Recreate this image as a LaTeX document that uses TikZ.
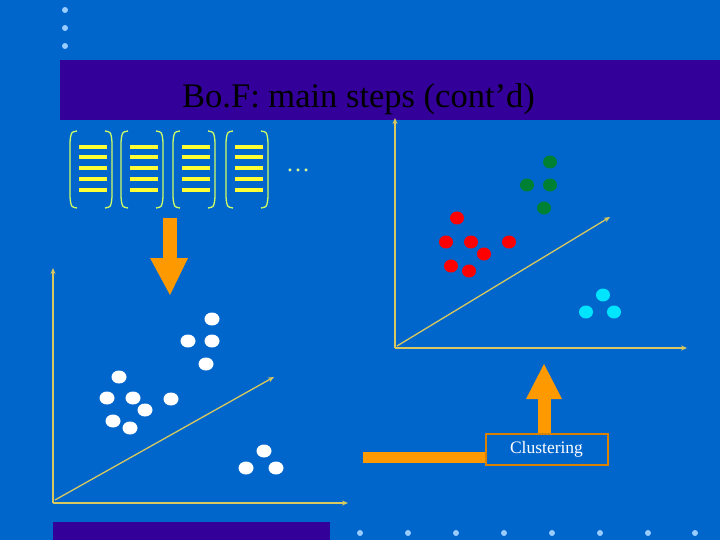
\documentclass[tikz,border=0pt]{standalone}
\usepackage{fontspec}
\setmainfont{Liberation Serif}
\usetikzlibrary{arrows.meta}
\definecolor{bg}{HTML}{0066CC}
\definecolor{bar}{HTML}{330099}
\definecolor{ax}{HTML}{D8C860}
\definecolor{org}{HTML}{FF9900}
\definecolor{ylw}{HTML}{FFFF33}
\definecolor{brk}{HTML}{CCFF66}
\definecolor{ldot}{HTML}{99CCFF}
\definecolor{grn}{HTML}{008033}
\definecolor{cyn}{HTML}{00E5FF}
\begin{document}
\begin{tikzpicture}[x=1pt,y=-1pt,
  axis/.style={draw=ax,line width=1.3pt,-{Stealth[length=6pt,width=5pt]}},
  dotl/.style={fill=ldot,draw=none}]
\fill[bg] (0,0) rectangle (720,540);
\useasboundingbox (0,0) rectangle (720,540);
\fill[bar] (60,60) rectangle (720,120);
\fill[bar] (53,522) rectangle (330,540);
\foreach \y in {10,28,46} \fill[dotl] (65,\y) circle (3);
\foreach \x in {360,408,456,504,552,600,648,695} \fill[dotl] (\x,533) circle (3);
\node[anchor=base west,text=black,font=\fontsize{34.5}{34.5}\selectfont,inner sep=0] (title) at (182,108) {Bo.F: main steps (cont’d)};
% vectors
\foreach \a/\b in {70/112,121/163,173/215,226/268}{
  \draw[brk,line width=1.3pt] (\a+7,131) .. controls (\a+1,132) .. (\a,142) -- (\a,197) .. controls (\a+1,207) .. (\a+7,208);
  \draw[brk,line width=1.3pt] (\b-7,131) .. controls (\b-1,132) .. (\b,142) -- (\b,197) .. controls (\b-1,207) .. (\b-7,208);
  \foreach \y in {147,157,168,179,190} \draw[ylw,line width=3.8pt] (\a+9,\y) -- (\b-5,\y);
}
\node[text=brk!70!white,font=\fontsize{24}{24}\selectfont,inner sep=0] (dots) at (298,170) {\dots};
% down arrow
\coordinate (da2) at (170,295);
\fill[org] (163,218) rectangle (177,258);
\fill[org] (150,258) -- (188,258) -- (da2) -- cycle;
% left axes
\coordinate (lo) at (53,503);
\coordinate (ly) at (53,268);
\coordinate (lx) at (348,503);
\draw[axis] (lo) -- (ly);
\draw[axis] (lo) -- (lx);
\coordinate (ld1) at (55,500); \coordinate (ld2) at (274,377);
\draw[axis] (ld1) -- (ld2);
\foreach \x/\y in {212/319,188/341,212/341,206/364,119/377,107/398,133/398,171/399,145/410,113/421,130/428,264/451,246/468,276/468}
  \fill[white] (\x,\y) ellipse (7.5 and 6.5);
% right axes
\coordinate (ro) at (395,348);
\coordinate (ry) at (395,118);
\coordinate (rx) at (687,348);
\draw[axis] (ro) -- (ry);
\draw[axis] (ro) -- (rx);
\coordinate (rd1) at (397,346); \coordinate (rd2) at (610,217);
\draw[axis] (rd1) -- (rd2);
\foreach \x/\y in {550/162,527/185,550/185,544/208} \fill[grn] (\x,\y) ellipse (7 and 6.5);
\foreach \x/\y in {457/218,446/242,471/242,509/242,484/254,451/266,469/271} \fill[red] (\x,\y) ellipse (7 and 6.5);
\foreach \x/\y in {603/295,586/312,614/312} \fill[cyn] (\x,\y) ellipse (7 and 6.5);
% clustering
\node[draw=org!85!black,line width=2pt,minimum width=122pt,minimum height=31pt,inner sep=0,text=white,font=\fontsize{17.5}{17.5}\selectfont] (clu) at (546.5,449) {Clustering};
\fill[org] (363,452) rectangle (485,463);
\fill[org] (538,398) rectangle (551,433);
\fill[org] (526,399) -- (562,399) -- (544,364) -- cycle;
\end{tikzpicture}
\end{document}
